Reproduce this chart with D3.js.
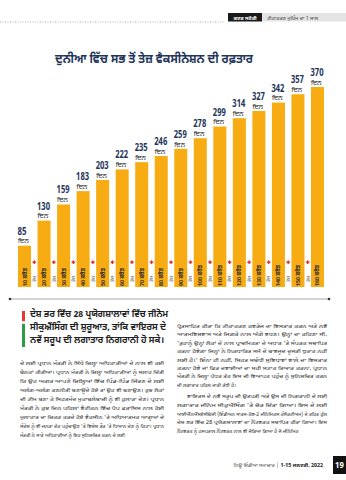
<!DOCTYPE html>
<html>
<head>
<meta charset="utf-8">
<script src="https://cdn.jsdelivr.net/npm/d3@7"></script>
<style>
  html, body { margin: 0; padding: 0; background: #fff; }
  svg { display: block; }
  text { font-family: "Noto Sans Gurmukhi", "Lohit Gurmukhi", "Noto Sans", "DejaVu Sans", sans-serif; }
</style>
</head>
<body>
<div id="chart"></div>
<script>
// ---------- data ----------
const categories = ["10 ਕਰੋੜ","20 ਕਰੋੜ","30 ਕਰੋੜ","40 ਕਰੋੜ","50 ਕਰੋੜ","60 ਕਰੋੜ","70 ਕਰੋੜ","80 ਕਰੋੜ",
                    "90 ਕਰੋੜ","100 ਕਰੋੜ","110 ਕਰੋੜ","120 ਕਰੋੜ","130 ਕਰੋੜ","140 ਕਰੋੜ","150 ਕਰੋੜ","160 ਕਰੋੜ"];
const days = [85,130,159,183,203,222,235,246,259,278,299,314,327,342,357,370];
const unitLabel = "ਦਿਨ";
const betweenLabel = "ਡੋਜ਼";
const title = "ਦੁਨੀਆ ਵਿੱਚ ਸਭ ਤੋਂ ਤੇਜ਼ ਵੈਕਸੀਨੇਸ਼ਨ ਦੀ ਰਫ਼ਤਾਰ";
const headerSection = "ਕਵਰ ਸਟੋਰੀ";
const headerTopic = "ਟੀਕਾਕਰਣ ਮੁਹਿੰਮ ਦਾ 1 ਸਾਲ";
const headline = ["ਦੇਸ਼ ਭਰ ਵਿੱਚ 28 ਪ੍ਰਯੋਗਸ਼ਾਲਾਵਾਂ ਵਿੱਚ ਜੀਨੋਮ",
                  "ਸੀਕੁਐਂਸਿੰਗ ਦੀ ਸ਼ੁਰੂਆਤ, ਤਾਂਕਿ ਵਾਇਰਸ ਦੇ",
                  "ਨਵੇਂ ਸਰੂਪ ਦੀ ਲਗਾਤਾਰ ਨਿਗਰਾਨੀ ਹੋ ਸਕੇ।"];
const leftBody = ["ਦੇ ਲਈ ਪ੍ਰਧਾਨ ਮੰਤਰੀ ਨੇ ਸਿੱਧੇ ਜ਼ਿਲ੍ਹਾ ਅਧਿਕਾਰੀਆਂ ਦੇ ਨਾਲ ਵੀ ਕਈ",
                  "ਬੈਠਕਾਂ ਕੀਤੀਆਂ। ਪ੍ਰਧਾਨ ਮੰਤਰੀ ਨੇ ਜ਼ਿਲ੍ਹਾ ਅਧਿਕਾਰੀਆਂ ਨੂੰ ਸਲਾਹ ਦਿੱਤੀ",
                  "ਕਿ ਉਹ ਅਗਰ ਆਪਣੇ ਜ਼ਿਲ੍ਹਿਆਂ ਵਿੱਚ ਪਿੰਡ-ਪਿੰਡ ਜਿੱਤਣ ਦੇ ਲਈ",
                  "ਅਲੱਗ-ਅਲੱਗ ਰਣਨੀਤੀ ਬਣਾਉਂਦੇ ਹੋਏ ਤਾਂ ਉਹ ਵੀ ਬਣਾਉਣ। ਕੁਝ ਲੋਕਾਂ",
                  "ਦੀ ਟੀਮ ਬਣਾ ਕੇ ਸਿਹਤਮੰਦ ਮੁਕਾਬਲੇਬਾਜ਼ੀ ਨੂੰ ਵੀ ਹੁਲਾਰਾ ਦੇਣ। ਪ੍ਰਧਾਨ",
                  "ਮੰਤਰੀ ਨੇ ਕੁਝ ਦਿਨ ਪਹਿਲਾਂ ਵੈਟੀਕਨ ਵਿੱਚ ਪੋਪ ਫਰਾਂਸਿਸ ਨਾਲ ਹੋਈ",
                  "ਮੁਲਾਕਾਤ ਦਾ ਜ਼ਿਕਰ ਕਰਦੇ ਹੋਏ ਵੈਕਸੀਨ 'ਤੇ ਅਧਿਆਤਮਕ ਆਗੂਆਂ ਦੇ",
                  "ਸੰਦੇਸ਼ ਨੂੰ ਵੀ ਜਨਤਾ ਤੱਕ ਪਹੁੰਚਾਉਣ 'ਤੇ ਵਿਸ਼ੇਸ਼ ਤੌਰ 'ਤੇ ਧਿਆਨ ਦੇਣ ਨੂੰ ਕਿਹਾ। ਪ੍ਰਧਾਨ",
                  "ਮੰਤਰੀ ਨੇ ਸਾਰੇ ਅਧਿਕਾਰੀਆਂ ਨੂੰ ਇਹ ਸੁਨਿਸ਼ਚਿਤ ਕਰਨ ਦੇ ਲਈ"];
const rightPara1 = ["ਪ੍ਰੋਤਸਾਹਿਤ ਕੀਤਾ ਕਿ ਟੀਕਾਕਰਣ ਕਵਰੇਜ ਦਾ ਵਿਸਤਾਰ ਕਰਨ ਅਤੇ ਨਵੇਂ",
                    "ਆਤਮਵਿਸ਼ਵਾਸ ਅਤੇ ਜਿਗਰੇ ਨਾਲ ਅੱਗੇ ਵਧਣ। ਉਨ੍ਹਾਂ ਦਾ ਕਹਿਣਾ ਸੀ,",
                    "'ਤੁਹਾਨੂੰ ਉਨ੍ਹਾਂ ਲੋਕਾਂ ਦੇ ਨਾਲ ਪ੍ਰਾਥਮਿਕਤਾ ਦੇ ਅਧਾਰ 'ਤੇ ਸੰਪਰਕ ਸਥਾਪਿਤ",
                    "ਕਰਨਾ ਹੋਵੇਗਾ ਜਿਨ੍ਹਾਂ ਨੇ ਨਿਰਧਾਰਿਤ ਸਮੇਂ ਦੇ ਬਾਵਜੂਦ ਦੂਸਰੀ ਖੁਰਾਕ ਨਹੀਂ",
                    "ਲਈ ਹੈ।' ਇੰਨਾ ਹੀ ਨਹੀਂ, ਸਿਹਤ ਸਬੰਧੀ ਸੁਵਿਧਾਵਾਂ ਵਾਲੇ ਦਾ ਵਿਸਤਾਰ",
                    "ਕਰਨਾ ਹੋਵੇ ਜਾਂ ਫਿਰ ਦਵਾਈਆਂ ਦਾ ਸਹੀ ਸਟਾਕ ਤਿਆਰ ਕਰਨਾ, ਪ੍ਰਧਾਨ",
                    "ਮੰਤਰੀ ਨੇ ਜ਼ਿਲ੍ਹਾ ਪੱਧਰ ਤੱਕ ਇਸ ਦੀ ਵਿਆਪਕ ਪਹੁੰਚ ਨੂੰ ਸੁਨਿਸ਼ਚਿਤ ਕਰਨ",
                    "ਦੀ ਲਗਾਤਾਰ ਪਹਿਲ ਜਾਰੀ ਰੱਖੀ ਹੈ।"];
const rightPara2 = ["ਵਾਇਰਸ ਦੇ ਨਵੇਂ ਸਰੂਪ ਦੀ ਉਤਪਤੀ ਅਤੇ ਉਸ ਦੀ ਨਿਗਰਾਨੀ ਦੇ ਲਈ",
                    "ਲਗਾਤਾਰ ਜੀਨੋਮ ਸੀਕੁਐਂਸਿੰਗ 'ਤੇ ਜ਼ੋਰ ਦਿੱਤਾ ਗਿਆ। ਇਸ ਦੇ ਲਈ",
                    "ਆਈਐੱਨਐੱਸਏਸੀਓਜੀ (ਇੰਡੀਅਨ ਸਾਰਸ-ਕੋਵ-2 ਜੀਨੋਮਿਕਸ ਕੰਸੋਰਟੀਅਮ) ਦੇ ਤਹਿਤ ਕੁੱਲ",
                    "ਦੇਸ਼ ਭਰ ਵਿੱਚ 28 ਪ੍ਰਯੋਗਸ਼ਾਲਾਵਾਂ ਦਾ ਨੈੱਟਵਰਕ ਸਥਾਪਿਤ ਕੀਤਾ ਗਿਆ। ਇਸ",
                    "ਨੈੱਟਵਰਕ ਨੂੰ ਹਸਪਤਾਲ ਨੈੱਟਵਰਕ ਨਾਲ ਵੀ ਜੋੜਿਆ ਗਿਆ ਹੈ ਜੋ ਜੀਨੋਮਿਕ"];
const footerText = "ਨਿਊ ਇੰਡੀਆ ਸਮਾਚਾਰ | ";
const footerDate = "1-15 ਜਨਵਰੀ, 2022";
const pageNumber = "19";

// ---------- layout ----------
const W = 346, H = 480;
const svg = d3.select("#chart").append("svg").attr("width", W).attr("height", H);

const barColor = "#f8ac14";
const navy = "#1f365a";
const baseY = 287;

const x = d3.scaleBand().domain(categories).range([14.75, 327.25]).paddingInner(0.333).paddingOuter(0.1665);
const y = d3.scaleLinear().domain([0, 370]).range([293, 87]);

// header
svg.append("line").attr("x1", 0).attr("x2", 224).attr("y1", 22).attr("y2", 22)
  .attr("stroke", "#9a9a9a").attr("stroke-width", 0.8).attr("stroke-dasharray", "1,1.5");
svg.append("rect").attr("x", 228).attr("y", 13).attr("width", 34).attr("height", 8.5).attr("fill", "#1a1a1a");
svg.append("rect").attr("x", 262).attr("y", 13).attr("width", 84).attr("height", 8.5).attr("fill", "#e4e4e4");
svg.append("text").attr("x", 245).attr("y", 19.6).attr("text-anchor", "middle")
  .attr("font-size", 5.4).attr("font-weight", "bold").attr("fill", "#fff").text(headerSection);
svg.append("text").attr("x", 267).attr("y", 19.6)
  .attr("font-size", 5.4).attr("fill", "#444").text(headerTopic);

// title
svg.append("text").attr("x", 154).attr("y", 63).attr("text-anchor", "middle")
  .attr("font-size", 13).attr("font-weight", "bold").attr("fill", navy)
  .attr("textLength", 198).attr("lengthAdjust", "spacingAndGlyphs").text(title);

// bars
const data = categories.map((c, i) => ({ c, v: days[i] }));
svg.append("g").selectAll("rect").data(data).join("rect")
  .attr("x", d => x(d.c)).attr("width", x.bandwidth())
  .attr("y", d => y(d.v)).attr("height", d => baseY - y(d.v))
  .attr("fill", barColor);

// value labels
const lab = svg.append("g").selectAll("g").data(data).join("g");
lab.append("text").attr("x", d => x(d.c) - 0.5).attr("y", d => y(d.v) - 11)
  .attr("font-family", "'DejaVu Sans Condensed', 'Roboto', sans-serif")
  .attr("font-stretch", "condensed")
  .attr("font-size", 10).attr("font-weight", "bold").attr("fill", navy)
  .attr("textLength", d => String(d.v).length === 3 ? 13 : 9)
  .attr("lengthAdjust", "spacingAndGlyphs")
  .text(d => d.v);
lab.append("text").attr("x", d => x(d.c)).attr("y", d => y(d.v) - 2.2)
  .attr("font-size", 7).attr("fill", "#222").text(unitLabel);

// category labels inside bars (rotated)
svg.append("g").selectAll("text").data(data).join("text")
  .attr("transform", d => `translate(${x(d.c) + x.bandwidth() / 2 + 2},${baseY - 1}) rotate(-90)`)
  .attr("font-size", 5.5).attr("font-weight", "bold").attr("fill", "#2a2a2a")
  .text(d => d.c);

// between-bar markers
const gaps = data.slice(0, -1);
const gx = d => x(d.c) + x.bandwidth() + (x.step() - x.bandwidth()) / 2;
const mk = svg.append("g").selectAll("g").data(gaps).join("g");
mk.append("rect").attr("x", d => gx(d) - 1.8).attr("y", 261.5).attr("width", 3.6).attr("height", 1.4).attr("fill", "#e0322e");
mk.append("rect").attr("x", d => gx(d) - 0.7).attr("y", 260.4).attr("width", 1.4).attr("height", 3.6).attr("fill", "#e0322e");
mk.append("text")
  .attr("transform", d => `translate(${gx(d) + 1.8},${282}) rotate(-90)`)
  .attr("font-size", 5).attr("fill", "#666").text(betweenLabel);

// axis line
svg.append("line").attr("x1", 10).attr("x2", 329).attr("y1", 299).attr("y2", 299)
  .attr("stroke", "#c4c4c4").attr("stroke-width", 1.6);
svg.append("circle").attr("cx", 10).attr("cy", 299).attr("r", 1.3).attr("fill", "#333");
svg.append("circle").attr("cx", 329).attr("cy", 299).attr("r", 1.3).attr("fill", "#333");

// headline with colour marker
svg.append("rect").attr("x", 22).attr("y", 311).attr("width", 3).attr("height", 10).attr("fill", "#e53a2f");
svg.append("rect").attr("x", 22).attr("y", 321).attr("width", 3).attr("height", 3).attr("fill", "#e8e8e8");
svg.append("rect").attr("x", 22).attr("y", 324).attr("width", 3).attr("height", 23).attr("fill", "#2e9b45");
const hlWidths = [138, 136, 134];
svg.append("g").selectAll("text").data(headline).join("text")
  .attr("x", 30).attr("y", (d, i) => 317 + i * 13)
  .attr("font-size", 9.2).attr("font-weight", "bold").attr("fill", "#222")
  .attr("textLength", (d, i) => hlWidths[i]).attr("lengthAdjust", "spacingAndGlyphs")
  .text(d => d);

// body text helper
function para(lines, x0, width, y0, lh, indent) {
  svg.append("g").selectAll("text").data(lines).join("text")
    .attr("x", (d, i) => x0 + (i === 0 ? indent : 0))
    .attr("y", (d, i) => y0 + i * lh)
    .attr("font-size", 5.2).attr("fill", "#333")
    .each(function (d, i) {
      if (i < lines.length - 1) {
        d3.select(this).attr("textLength", width - (i === 0 ? indent : 0)).attr("lengthAdjust", "spacingAndGlyphs");
      }
    })
    .text(d => d);
}
para(leftBody, 20, 144, 365, 9, 0);
para(rightPara1, 177, 150, 328, 8.4, 0);
para(rightPara2, 177, 150, 398, 8.8, 10);

// footer
svg.append("text").attr("x", 323).attr("y", 467).attr("text-anchor", "end")
  .attr("font-size", 5.4).attr("fill", "#555")
  .call(t => { t.append("tspan").text(footerText); t.append("tspan").attr("font-weight", "bold").attr("fill", "#222").text(footerDate); });
svg.append("rect").attr("x", 333).attr("y", 456).attr("width", 13).attr("height", 18).attr("fill", "#111");
svg.append("text").attr("x", 339.5).attr("y", 468).attr("text-anchor", "middle")
  .attr("font-size", 8).attr("font-weight", "bold").attr("fill", "#fff").text(pageNumber);
</script>
</body>
</html>
